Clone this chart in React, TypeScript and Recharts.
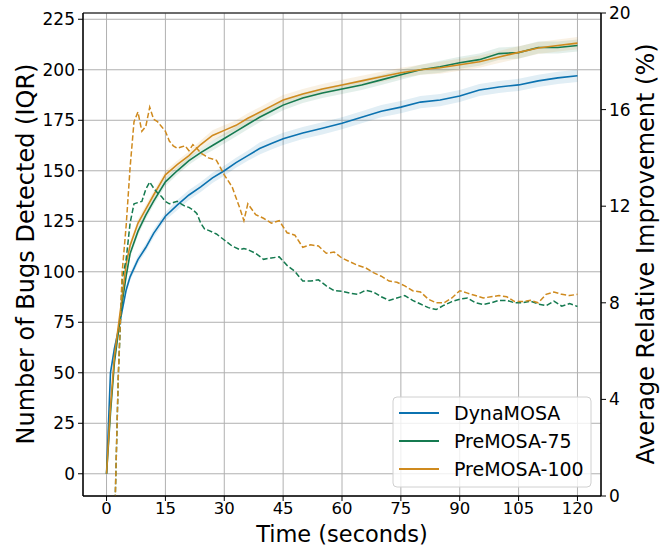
import React from 'react';
import { ComposedChart, Line, Area, XAxis, YAxis, CartesianGrid, ReferenceArea } from 'recharts';

// sample times (seconds) for the bug-count curves
const times = [0, 1, 2, 3, 4, 5, 6, 8, 10, 12, 15, 18, 21, 24, 27, 30, 33, 36, 39, 42, 45, 50, 55, 60, 65, 70, 75, 80, 85, 90, 95, 100, 105, 110, 115, 120];

const dynamosa = [0, 50, 62, 71, 81, 91, 97.5, 106, 112, 119, 127.5, 133, 138, 142, 146.5, 150, 154, 157.5, 161, 163.5, 165.8, 168.7, 171, 173.5, 176.5, 179.5, 181.5, 184, 185, 187, 190, 191.5, 192.5, 194.5, 196, 197];
const premosa75 = [0, 30, 55, 70, 85, 98, 109, 120, 128, 135, 144.5, 150, 155, 159, 162.5, 166, 169.5, 173, 176.5, 179.5, 182.5, 186, 188.5, 190.5, 192.5, 195, 197.5, 200, 201.5, 203.5, 205, 208, 208.5, 211, 211, 212];
const premosa100 = [0, 33, 58, 73, 88, 104, 113, 124, 131, 138, 148, 153, 157.5, 163, 167.5, 170, 172.5, 176, 179, 182, 185, 188, 190.5, 192.5, 194.5, 196.5, 198.5, 200, 201, 202.5, 204, 206.3, 208.6, 210.8, 212, 213.2];

// half of the IQR band around each median curve
const dynamosaIqr = [0, 2, 2, 2, 2, 2, 2, 2, 2, 2, 2, 2.5, 2.5, 2.5, 2.5, 2.5, 2.5, 2.5, 3, 3, 3, 3, 3, 3, 3, 3, 3, 3, 3, 3, 3, 3, 3, 3, 3, 3];
const premosa75Iqr = [0, 1.5, 1.5, 1.5, 1.5, 1.5, 2, 2, 2, 2, 2, 2, 2, 2, 2.5, 2.5, 2.5, 2.5, 2.5, 2.5, 2.5, 2.5, 2.5, 2.5, 2.5, 2.5, 2.5, 2.5, 3, 3, 3, 3, 3, 3, 3, 3];
const premosa100Iqr = [0, 1.5, 1.5, 1.5, 1.5, 1.5, 2, 2, 2, 2, 2, 2, 2, 2, 2.5, 2.5, 2.5, 2.5, 2.5, 2.5, 2.5, 2.5, 2.5, 2.5, 2.5, 2.5, 2.5, 2.5, 3, 3, 3, 3, 3, 3, 3, 3];

// average relative improvement over DynaMOSA (%), right axis
const improvementTimes = [2, 3, 4, 5, 6, 7, 8, 9, 10, 11, 12, 13, 14, 15, 16, 17, 18, 19, 20, 21, 22, 23, 24, 25, 26, 28, 30, 32, 34, 35, 36, 38, 40, 42, 44, 46, 48, 50, 52, 54, 56, 58, 60, 62, 64, 66, 68, 70, 72, 74, 76, 78, 80, 82, 84, 86, 88, 90, 92, 94, 96, 98, 100, 102, 104, 106, 108, 110, 112, 114, 116, 118, 120];
const improvement75 = [-1.5, 5, 9.0, 9.8, 11.3, 12.1, 12.15, 12.2, 12.7, 13.0, 12.75, 12.55, 12.4, 12.2, 12.1, 12.15, 12.2, 12.1, 12.0, 11.95, 11.85, 11.7, 11.3, 11.05, 11.0, 10.85, 10.6, 10.35, 10.2, 10.25, 10.2, 10.05, 9.8, 9.86, 9.9, 9.55, 9.3, 8.9, 8.9, 8.95, 8.7, 8.5, 8.48, 8.4, 8.35, 8.52, 8.45, 8.25, 8.1, 8.2, 8.3, 8.1, 7.95, 7.8, 7.72, 7.9, 8.05, 8.15, 8.2, 8.0, 7.93, 8.0, 8.1, 8.1, 8.0, 8.0, 8.07, 7.95, 7.88, 8.07, 7.86, 7.97, 7.85];
const improvement100 = [-1.5, 5, 9.3, 11.2, 13.6, 15.5, 15.9, 15.1, 15.3, 16.1, 15.6, 15.5, 15.3, 15.1, 14.7, 14.5, 14.4, 14.45, 14.5, 14.3, 14.55, 14.4, 14.2, 14.1, 14.0, 13.9, 13.3, 12.8, 11.9, 11.4, 12.1, 11.65, 11.5, 11.3, 11.4, 10.9, 10.8, 10.3, 10.4, 10.35, 10.05, 10.1, 9.85, 9.7, 9.55, 9.45, 9.25, 9.1, 8.9, 8.85, 8.7, 8.5, 8.45, 8.15, 8.0, 8.0, 8.2, 8.5, 8.4, 8.3, 8.2, 8.25, 8.3, 8.25, 8.05, 8.05, 8.1, 8.0, 8.35, 8.45, 8.35, 8.3, 8.35];

const xTicks = [0, 15, 30, 45, 60, 75, 90, 105, 120];
const leftTicks = [0, 25, 50, 75, 100, 125, 150, 175, 200, 225];
const rightTicks = [0, 4, 8, 12, 16, 20];

const BLUE = '#0b72b0';
const GREEN = '#157a50';
const ORANGE = '#cf8a1e';
const FONT = '"DejaVu Sans", sans-serif';

const series = [
  { name: 'DynaMOSA', values: dynamosa, iqr: dynamosaIqr, color: BLUE },
  { name: 'PreMOSA-75', values: premosa75, iqr: premosa75Iqr, color: GREEN },
  { name: 'PreMOSA-100', values: premosa100, iqr: premosa100Iqr, color: ORANGE },
];

const curveData = (values: number[], iqr: number[]) =>
  times.map((t, i) => ({ t, v: values[i], band: [values[i] - iqr[i], values[i] + iqr[i]] }));

const improvementData = (values: number[]) => improvementTimes.map((t, i) => ({ t, p: values[i] }));

const tickStyle = { fontSize: 17, fill: '#000', fontFamily: FONT };

export default function App() {
  return (
    <div style={{ position: 'absolute', left: 0, top: 0, width: 660, height: 546, background: '#fff' }}>
      <ComposedChart width={660} height={546} margin={{ top: 13, right: 0, bottom: 0, left: 0 }}>
        <CartesianGrid yAxisId="left" stroke="#b0b0b0" strokeWidth={1} />
        <XAxis
          type="number"
          dataKey="t"
          domain={[-6, 126]}
          ticks={xTicks}
          allowDataOverflow
          height={50}
          tickSize={5}
          tickMargin={1}
          tick={{ ...tickStyle, fontSize: 16.5 }}
          stroke="#000"
        />
        <YAxis
          yAxisId="left"
          domain={[-11, 228.1]}
          ticks={leftTicks}
          allowDataOverflow
          width={83}
          tickSize={5}
          tickMargin={3}
          tick={tickStyle}
          stroke="#000"
        />
        <YAxis
          yAxisId="right"
          orientation="right"
          domain={[0, 20]}
          ticks={rightTicks}
          allowDataOverflow
          width={59}
          tickSize={5}
          tickMargin={3}
          tick={tickStyle}
          stroke="#000"
        />
        {series.map((s) => (
          <Area
            key={s.name + '-iqr'}
            yAxisId="left"
            data={curveData(s.values, s.iqr)}
            dataKey="band"
            type="linear"
            stroke="none"
            fill={s.color}
            fillOpacity={0.12}
            isAnimationActive={false}
          />
        ))}
        {series.map((s) => (
          <Line
            key={s.name}
            yAxisId="left"
            data={curveData(s.values, s.iqr)}
            dataKey="v"
            type="linear"
            stroke={s.color}
            strokeWidth={1.6}
            dot={false}
            isAnimationActive={false}
          />
        ))}
        <Line
          yAxisId="right"
          data={improvementData(improvement75)}
          dataKey="p"
          type="linear"
          stroke={GREEN}
          strokeWidth={1.5}
          strokeDasharray="5.5 2.5"
          dot={false}
          isAnimationActive={false}
        />
        <Line
          yAxisId="right"
          data={improvementData(improvement100)}
          dataKey="p"
          type="linear"
          stroke={ORANGE}
          strokeWidth={1.5}
          strokeDasharray="5.5 2.5"
          dot={false}
          isAnimationActive={false}
        />
        <ReferenceArea yAxisId="left" x1={-6} x2={126} y1={-11} y2={228.1} fill="none" stroke="#000" strokeWidth={1} ifOverflow="visible" />
      </ComposedChart>
      <svg width={660} height={546} style={{ position: 'absolute', left: 0, top: 0, pointerEvents: 'none' }} fontFamily={FONT}>
        <text x={26} y={254} fontSize={24} textAnchor="middle" dominantBaseline="central" transform="rotate(-90 26 254)">
          Number of Bugs Detected (IQR)
        </text>
        <text x={646} y={254} fontSize={24} textAnchor="middle" dominantBaseline="central" transform="rotate(-90 646 254)">
          Average Relative Improvement (%)
        </text>
        <text x={342} y={533.5} fontSize={22.5} textAnchor="middle" dominantBaseline="central">
          Time (seconds)
        </text>
        <rect x={393} y={397} width={198} height={90} rx={4} fill="#fff" fillOpacity={0.8} stroke="#d0d0d0" />
        {series.map((s, i) => (
          <g key={s.name}>
            <line x1={399} x2={439} y1={413 + i * 28} y2={413 + i * 28} stroke={s.color} strokeWidth={2} />
            <text x={454} y={413 + i * 28} fontSize={19} dominantBaseline="central">
              {s.name}
            </text>
          </g>
        ))}
      </svg>
    </div>
  );
}
